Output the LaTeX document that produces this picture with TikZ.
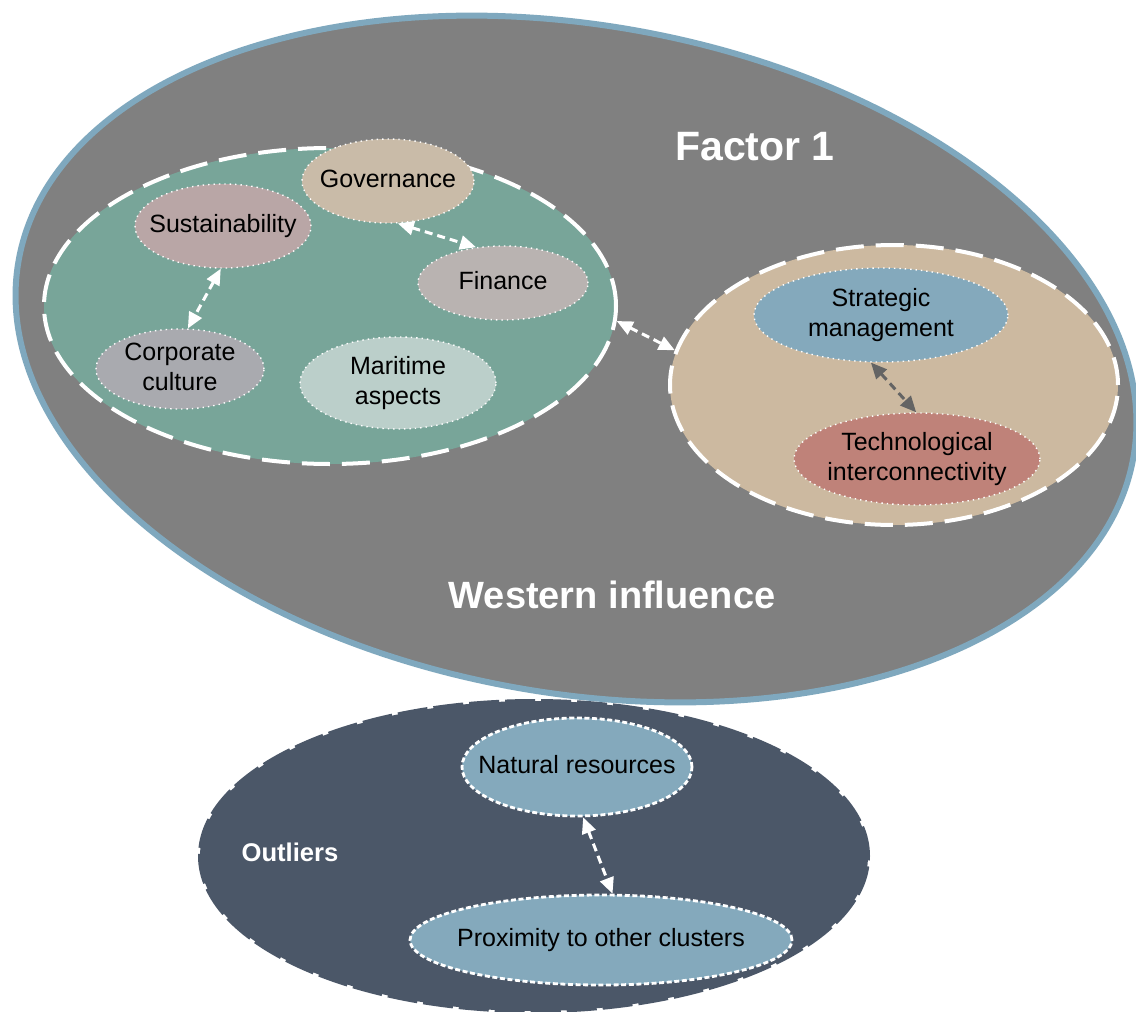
\documentclass[tikz,border=0pt]{standalone}
\usepackage{fontspec}
\setmainfont{Liberation Sans}
\usetikzlibrary{shapes.geometric,arrows.meta}
\definecolor{bigfill}{RGB}{128,128,128}
\definecolor{bigline}{RGB}{127,168,190}
\definecolor{greenfill}{RGB}{120,165,153}
\definecolor{tanfill}{RGB}{204,185,160}
\definecolor{darkfill}{RGB}{75,87,104}
\definecolor{govfill}{RGB}{201,187,168}
\definecolor{susfill}{RGB}{185,166,166}
\definecolor{finfill}{RGB}{185,179,177}
\definecolor{corpfill}{RGB}{169,170,175}
\definecolor{marfill}{RGB}{187,207,202}
\definecolor{bluefill}{RGB}{132,169,188}
\definecolor{techfill}{RGB}{191,130,121}
\definecolor{arrowgray}{RGB}{100,100,100}
\newcommand\ztext[1]{\makebox[0pt]{\smash{\raisebox{-0.25em}{\begin{tabular}{@{}c@{}}#1\end{tabular}}}}}
\begin{document}
\begin{tikzpicture}[x=0.5pt,y=-0.5pt,
  cluster/.style={ellipse, draw=white, line width=2pt, dash pattern=on 14pt off 6pt, inner sep=0pt},
  bub/.style={ellipse, draw=white, line width=0.7pt, dotted, inner sep=0pt, font=\fontsize{12.5}{15}\selectfont},
  bubd/.style={bub, line width=1.4pt, dash pattern=on 2.5pt off 1.3pt},
  link/.style={line width=1.5pt, draw=white, dash pattern=on 4pt off 2.5pt, {Triangle[length=8pt,width=7pt]}-{Triangle[length=8pt,width=7pt]}},
  title/.style={text=white, font=\bfseries\fontsize{20}{24}\selectfont, inner sep=0pt}
]
\useasboundingbox[fill=white] (0,0) rectangle (1136,1012);
% outliers cluster
\node[ellipse, fill=darkfill, draw=darkfill, line width=2pt, dash pattern=on 15pt off 3pt, minimum width=334pt, minimum height=155pt, inner sep=0pt] (outl) at (534,856) {};
% big factor ellipse
\node[ellipse, fill=bigfill, draw=bigline, line width=3pt, minimum width=566pt, minimum height=334pt, rotate=-10, inner sep=0pt] (factor) at (576,359) {};
% clusters
\node[cluster, fill=greenfill, minimum width=286pt, minimum height=158pt] (green) at (330,306) {};
\node[cluster, fill=tanfill, minimum width=224pt, minimum height=140pt] (tan) at (894,385) {};
% bubbles
\node[bub, fill=govfill, minimum width=86pt, minimum height=42pt] (gov) at (388,181) {\ztext{Governance}};
\node[bub, fill=susfill, minimum width=88pt, minimum height=42pt] (sus) at (223,226) {\ztext{Sustainability}};
\node[bub, fill=finfill, minimum width=85pt, minimum height=37pt] (fin) at (503,283) {\ztext{Finance}};
\node[bub, fill=corpfill, minimum width=84pt, minimum height=40pt] (corp) at (180,369) {\ztext{Corporate\\culture}};
\node[bub, fill=marfill, minimum width=98pt, minimum height=46pt] (mar) at (398,383) {\ztext{Maritime\\aspects}};
\node[bub, fill=bluefill, minimum width=127pt, minimum height=47pt] (strat) at (881,315) {\ztext{Strategic\\management}};
\node[bub, fill=techfill, minimum width=123pt, minimum height=46pt] (tech) at (917,459) {\ztext{Technological\\interconnectivity}};
\node[bubd, fill=bluefill, minimum width=115pt, minimum height=49pt] (nat) at (577,767) {\ztext{Natural resources}};
\node[bubd, fill=bluefill, minimum width=191pt, minimum height=45pt] (prox) at (601,940) {\ztext{Proximity to other clusters}};
% titles
\node[title, font=\bfseries\fontsize{20.5}{24}\selectfont] (f1) at (755,147) {Factor 1};
\node[title, font=\bfseries\fontsize{19}{24}\selectfont] (west) at (612,595) {Western influence};
\node[title, font=\bfseries\fontsize{12.8}{15}\selectfont] (outt) at (290,852) {Outliers};
% links
\draw[link] (gov.-77) -- (fin.127);
\draw[link] (sus.-93) -- (corp.79);
\draw[link] (green.-3) -- (tan.171);
\draw[link, draw=arrowgray] (strat.-102) -- (tech.91);
\draw[link] (nat.-83) -- (prox.76);
\end{tikzpicture}
\end{document}
